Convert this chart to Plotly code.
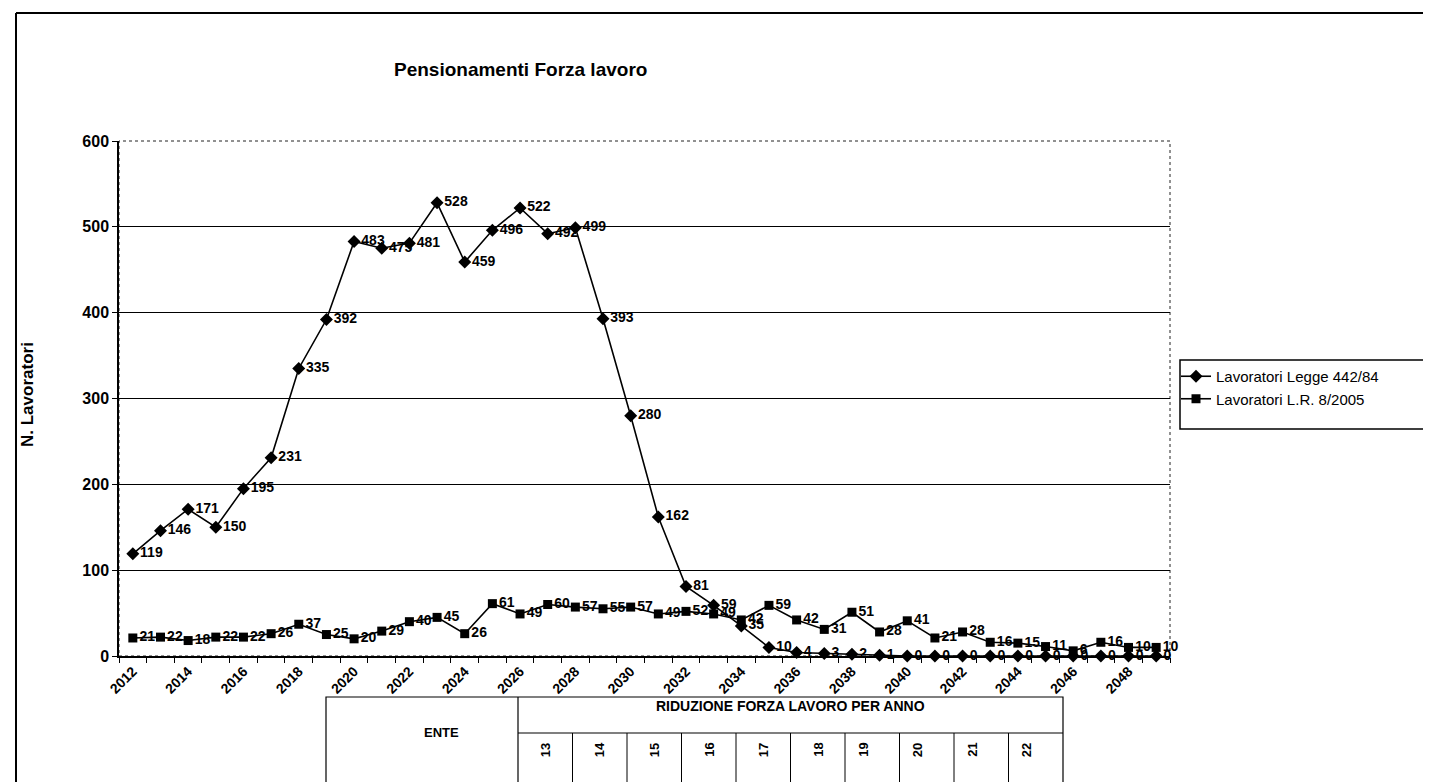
import plotly.graph_objects as go

years = list(range(2012, 2050))
legge_442 = [119, 146, 171, 150, 195, 231, 335, 392, 483, 475, 481, 528, 459, 496, 522, 492, 499,
             393, 280, 162, 81, 59, 35, 10, 4, 3, 2, 1, 0, 0, 0, 0, 0, 0, 0, 0, 0, 0]
lr_8_2005 = [21, 22, 18, 22, 22, 26, 37, 25, 20, 29, 40, 45, 26, 61, 49, 60, 57, 55, 57, 49, 52,
             49, 42, 59, 42, 31, 51, 28, 41, 21, 28, 16, 15, 11, 6, 16, 10, 10]
tick_years = list(range(2012, 2049, 2))
series_names = ["Lavoratori Legge 442/84", "Lavoratori L.R. 8/2005"]
table_cols = ["13", "14", "15", "16", "17", "18", "19", "20", "21", "22"]

W, H = 1431, 782
L, R, T, B = 111, 1162, 133, 648


def px(x):
    return (x - L) / (R - L)


def py(y):
    return (B - y) / (B - T)


NARROW = "Liberation Sans Narrow, Arial Narrow, Liberation Sans, Arial, sans-serif"
ARIAL = "Liberation Sans, Arial, sans-serif"

fig = go.Figure()
fig.add_trace(go.Scatter(
    x=years, y=legge_442, name=series_names[0], mode="lines+markers+text",
    line=dict(color="black", width=1.6),
    marker=dict(symbol="diamond", size=10, color="black"),
    text=[str(v) for v in legge_442], textposition="middle right",
    textfont=dict(family=NARROW, size=14, color="black", weight="bold"),
    cliponaxis=False,
))
fig.add_trace(go.Scatter(
    x=years, y=lr_8_2005, name=series_names[1], mode="lines+markers+text",
    line=dict(color="black", width=1.6),
    marker=dict(symbol="square", size=9, color="black"),
    text=[str(v) for v in lr_8_2005], textposition="middle right",
    textfont=dict(family=NARROW, size=14, color="black", weight="bold"),
    cliponaxis=False,
))

shapes = []
# plot area border (top & right)
shapes.append(dict(type="rect", xref="paper", yref="paper", x0=0, y0=0, x1=1, y1=1,
                   line=dict(color="#222", width=1, dash="dot"), layer="below"))
# chart frame
shapes.append(dict(type="line", xref="paper", yref="paper", x0=px(8), x1=px(8), y0=py(5), y1=py(782),
                   line=dict(color="black", width=2)))
shapes.append(dict(type="line", xref="paper", yref="paper", x0=px(8), x1=px(1428), y0=py(5), y1=py(5),
                   line=dict(color="black", width=2)))
shapes.append(dict(type="line", xref="paper", yref="paper", x0=px(1428), x1=px(1428), y0=py(5), y1=py(782),
                   line=dict(color="black", width=1.5)))
# legend box
shapes.append(dict(type="rect", xref="paper", yref="paper", x0=px(1172), x1=px(1428), y0=py(352), y1=py(421),
                   line=dict(color="black", width=1.5), fillcolor="white", layer="below"))

# table below chart (drawn below the axis labels)
tl, td, tr, tt, th, tb = 318, 510, 1055, 689, 725, 790
shapes.append(dict(type="rect", xref="paper", yref="paper", x0=px(tl), x1=px(tr), y0=py(tt), y1=py(tb),
                   line=dict(color="black", width=1.2), fillcolor="white", layer="below"))
shapes.append(dict(type="line", xref="paper", yref="paper", x0=px(td), x1=px(td), y0=py(tt), y1=py(tb),
                   line=dict(color="black", width=1.2), layer="below"))
shapes.append(dict(type="line", xref="paper", yref="paper", x0=px(td), x1=px(tr), y0=py(th), y1=py(th),
                   line=dict(color="black", width=1.2), layer="below"))
colw = (tr - td) / len(table_cols)
for i in range(1, len(table_cols)):
    xx = td + i * colw
    shapes.append(dict(type="line", xref="paper", yref="paper", x0=px(xx), x1=px(xx), y0=py(th), y1=py(tb),
                       line=dict(color="black", width=1), layer="below"))

annotations = []
annotations.append(dict(text="<b>Pensionamenti Forza lavoro</b>", xref="paper", yref="paper",
                        x=px(512), y=py(62), showarrow=False, xanchor="center", yanchor="middle",
                        font=dict(family=NARROW, size=19, color="black")))
annotations.append(dict(text="<b>N. Lavoratori</b>", xref="paper", yref="paper",
                        x=px(19), y=py(386), showarrow=False, textangle=-90,
                        xanchor="center", yanchor="middle",
                        font=dict(family=ARIAL, size=17, color="black")))
annotations.append(dict(text="<b>RIDUZIONE FORZA LAVORO PER ANNO</b>", xref="paper", yref="paper",
                        x=px((td + tr) / 2), y=py(708), showarrow=False,
                        font=dict(family=NARROW, size=14, color="black")))
annotations.append(dict(text="<b>ENTE</b>", xref="paper", yref="paper",
                        x=px((tl + td) / 2), y=py(734), showarrow=False,
                        font=dict(family=NARROW, size=13, color="black")))
for i, c in enumerate(table_cols):
    annotations.append(dict(text="<b>" + c + "</b>", xref="paper", yref="paper",
                            x=px(td + (i + 0.5) * colw), y=py(751), showarrow=False, textangle=-90,
                            font=dict(family=ARIAL, size=13, color="black")))

fig.update_layout(
    width=W, height=H,
    margin=dict(l=L, r=W - R, t=T, b=H - B, autoexpand=False),
    paper_bgcolor="white", plot_bgcolor="white",
    showlegend=True,
    legend=dict(x=px(1168), y=py(352), xanchor="left", yanchor="top",
                bgcolor="rgba(0,0,0,0)", borderwidth=0,
                font=dict(family=NARROW, size=15, color="black"), tracegroupgap=2),
    shapes=shapes, annotations=annotations,
    xaxis=dict(range=[2011.5, 2049.5], tickmode="array", tickvals=tick_years,
               ticktext=[str(y) for y in tick_years], tickangle=-45, ticks="",
               tickfont=dict(family=ARIAL, size=14, color="black", weight="bold"),
               showline=True, linecolor="black", linewidth=1.5, showgrid=False, zeroline=False,
               minor=dict(tickmode="array", tickvals=[2011.5 + i for i in range(39)],
                          ticks="outside", ticklen=5, tickcolor="black", tickwidth=1, showgrid=False)),
    yaxis=dict(range=[0, 600], tickmode="linear", tick0=0, dtick=100,
               tickfont=dict(family=ARIAL, size=16, color="black", weight="bold"),
               ticks="outside", ticklen=5, tickcolor="black",
               showline=True, linecolor="black", linewidth=1.5,
               showgrid=True, gridcolor="black", gridwidth=1, zeroline=False),
)

fig.write_html("out.html")
